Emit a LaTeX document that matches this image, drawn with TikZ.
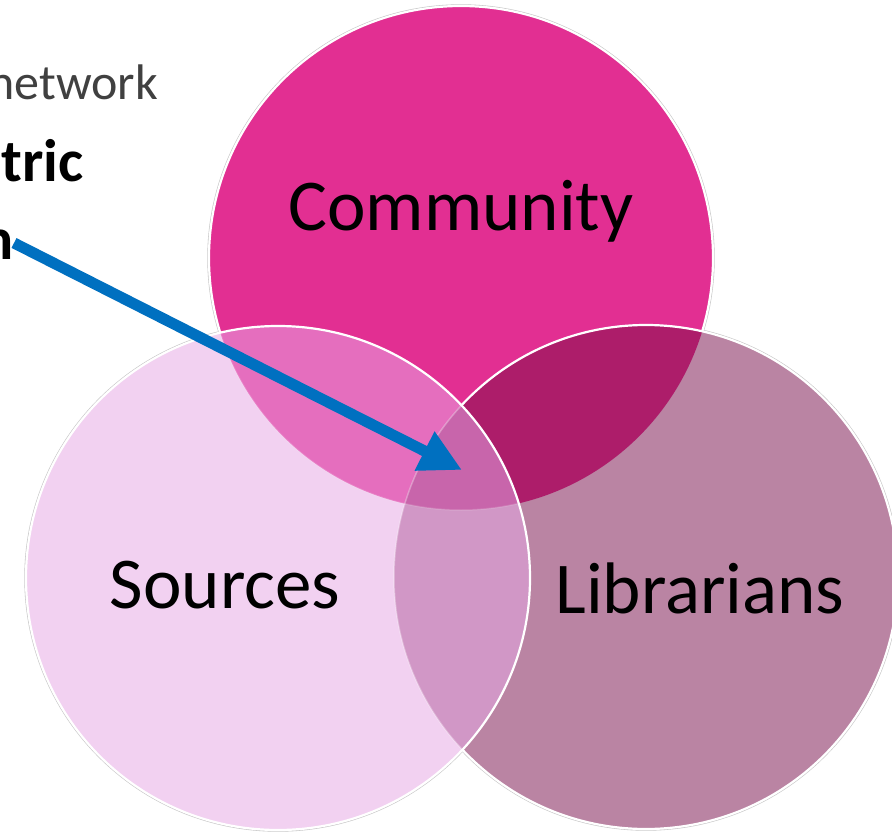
\documentclass[tikz,border=0pt]{standalone}
\usepackage{fontspec}
\setmainfont{Carlito}
\usetikzlibrary{arrows.meta}
\definecolor{cComm}{HTML}{E22F92}
\definecolor{cCS}{HTML}{E56EBE}
\definecolor{cCL}{HTML}{AD1D6A}
\definecolor{cTri}{HTML}{C865AB}
\definecolor{cSrc}{HTML}{F2D1F1}
\definecolor{cLib}{HTML}{BA84A3}
\definecolor{cSL}{HTML}{D197C6}
\definecolor{cBlue}{HTML}{0070C0}
\definecolor{cGrayText}{HTML}{404040}
\tikzset{
  label/.style={inner sep=0pt, anchor=base, font=\fontsize{73}{80}\selectfont, text=black},
  sidetext/.style={inner sep=0pt, font=\fontsize{50}{60}\selectfont, text=cGrayText},
  boldtext/.style={inner sep=0pt, font=\fontsize{60}{72}\selectfont\bfseries, text=black},
  rim/.style={draw=white, line width=2.2pt},
  shadowrim/.style={draw=black!22, line width=3.4pt},
  faintrim/.style={draw=white, draw opacity=0.3, line width=1.5pt},
  bluearrow/.style={draw=cBlue, line width=11pt, -{Triangle[length=42pt,width=41pt]}}
}
\begin{document}
\begin{tikzpicture}[x=1pt,y=-1pt]
\useasboundingbox (0,0) rectangle (892,832);
\fill[white] (0,0) rectangle (892,832);
\def\rr{252}
\coordinate (cc) at (461,258);
\coordinate (sc) at (278,578);
\coordinate (lc) at (646,577);
% shadows
\draw[shadowrim] (cc) circle (\rr);
\draw[shadowrim] (sc) circle (\rr);
\draw[shadowrim] (lc) circle (\rr);
% Community
\fill[cComm] (cc) circle (\rr);
\draw[rim] (cc) circle (\rr);
% Librarians
\fill[cLib] (lc) circle (\rr);
\begin{scope}
  \clip (lc) circle (\rr);
  \fill[cCL] (cc) circle (\rr);
\end{scope}
\draw[rim] (lc) circle (\rr);
% Sources
\fill[cSrc] (sc) circle (\rr);
\begin{scope}
  \clip (sc) circle (\rr);
  \fill[cCS] (cc) circle (\rr);
  \fill[cSL] (lc) circle (\rr);
  \clip (lc) circle (\rr);
  \fill[cTri] (cc) circle (\rr);
\end{scope}
\begin{scope}
  \clip (sc) circle (\rr);
  \draw[faintrim] (lc) circle (\rr);
  \draw[faintrim, draw opacity=0.15] (cc) circle (\rr);
\end{scope}
\draw[rim] (sc) circle (\rr);
% labels
\node[label] (community) at (461,230) {Community};
\node[label] (sources) at (225,608) {Sources};
\node[label] (librarians) at (700,613) {Librarians};
% side texts
\node[sidetext, anchor=base east] (network) at (158,100) {network};
\node[boldtext, anchor=base west] (tric) at (1,182) {tric};
\node[boldtext, anchor=base east] (nn) at (14,259) {n};
% arrow
\coordinate (astart) at (14,243);
\coordinate (atip) at (462,470);
\draw[bluearrow] (astart) -- (atip);
\end{tikzpicture}
\end{document}
